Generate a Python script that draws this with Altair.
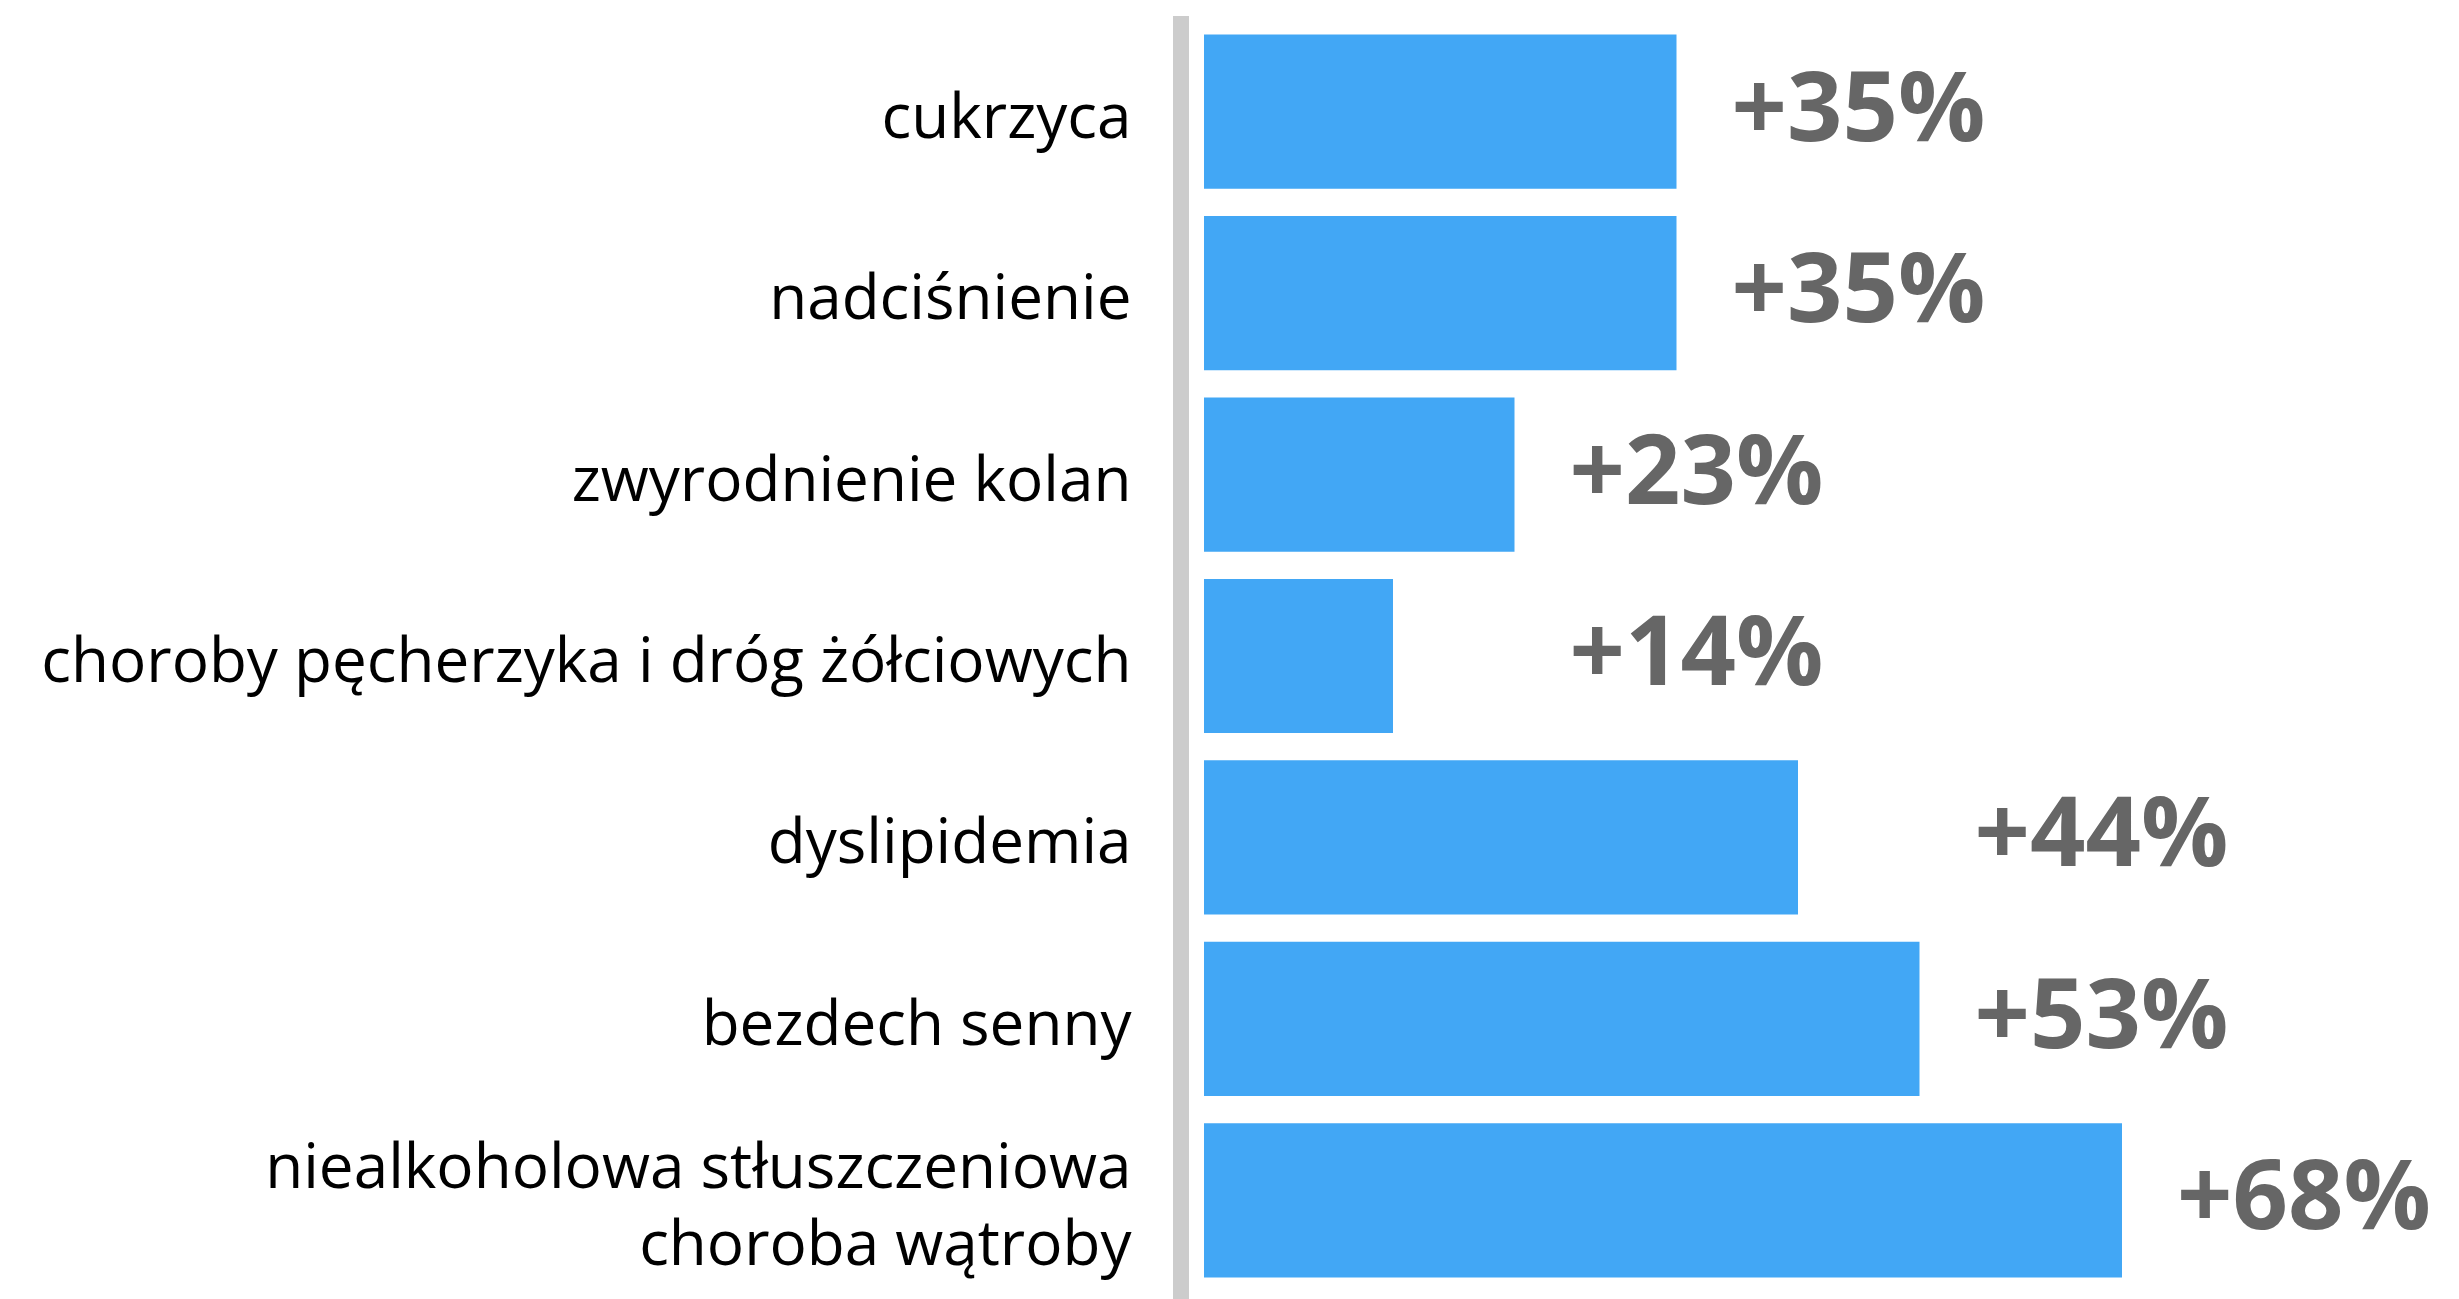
import altair as alt
import pandas as pd

categories = [
    "cukrzyca",
    "nadciśnienie",
    "zwyrodnienie kolan",
    "choroby pęcherzyka i dróg żółciowych",
    "dyslipidemia",
    "bezdech senny",
    "niealkoholowa stłuszczeniowa\nchoroba wątroby",
]
values = [35, 35, 23, 14, 44, 53, 68]

df = pd.DataFrame({"category": categories, "value": values})

W = 1215
H = 1270
FONT = "Open Sans"

base = alt.Chart(df).transform_window(
    rn="row_number()"
).transform_calculate(
    grp="floor((datum.rn - 1) / 2)",
    label="'+' + datum.value + '%'",
).transform_joinaggregate(
    gmax="max(value)", groupby=["grp"]
)

y_enc = alt.Y(
    "category:N",
    sort=None,
    scale=alt.Scale(paddingInner=0.15, paddingOuter=0.075),
    axis=alt.Axis(
        title=None,
        domain=False,
        ticks=False,
        grid=False,
        labelFont=FONT,
        labelFontSize=62,
        labelColor="#000000",
        labelPadding=73,
        labelLimit=0,
        labelLineHeight=77,
        labelOffset={
            "condition": {"test": "indexof(datum.value, '\\n') >= 0", "value": -31},
            "value": 7,
        },
        labelExpr="split(datum.label, '\\n')",
    ),
)

x_scale = alt.Scale(domain=[0, 90], nice=False, zero=True)

bars = base.mark_bar(color="#42A7F5").encode(
    x=alt.X("value:Q", scale=x_scale, axis=None),
    y=y_enc,
)

texts = base.mark_text(
    font=FONT,
    fontSize=97,
    fontWeight="bold",
    color="#666666",
    align="center",
    baseline="middle",
    dx=182,
).encode(
    x=alt.X("gmax:Q", scale=x_scale, axis=None),
    y=alt.Y("category:N", sort=None),
    text="label:N",
)

line = alt.Chart(alt.Data(values=[{}])).mark_rule(
    color="#cccccc", strokeWidth=16
).encode(
    x=alt.value(-23),
    y=alt.value(-5),
    y2=alt.value(H + 10),
)

chart = alt.layer(bars, texts, line).properties(
    width=W,
    height=H,
    autosize=alt.AutoSizeParams(type="none"),
    padding={"left": 1204, "top": 21, "right": 40, "bottom": 8},
).configure_view(strokeWidth=0)

chart.save("out.html", embed_options={"renderer": "svg", "actions": False})
